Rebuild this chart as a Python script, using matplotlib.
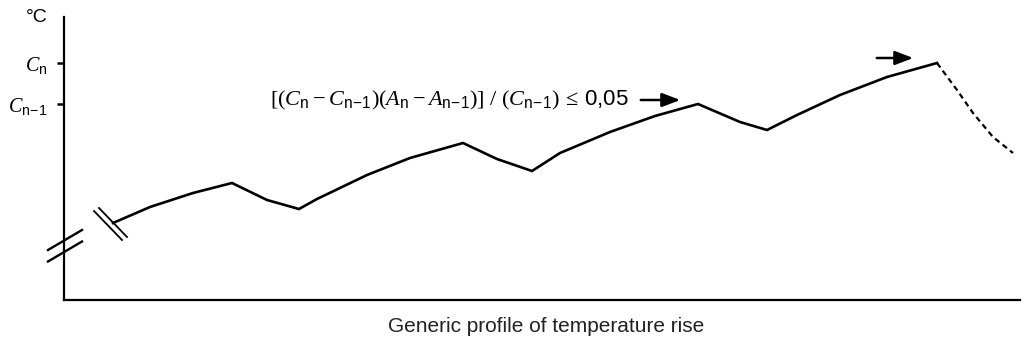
import numpy as np
import matplotlib
matplotlib.use("Agg")
import matplotlib.pyplot as plt

plt.rcParams['font.family'] = ['Liberation Sans', 'DejaVu Sans']
plt.rcParams['mathtext.fontset'] = 'custom'
plt.rcParams['mathtext.rm'] = 'Liberation Serif'
plt.rcParams['mathtext.it'] = 'Liberation Serif:italic'
plt.rcParams['mathtext.sf'] = 'Liberation Sans'

# generic temperature profile (arbitrary units)
time = [49, 86, 129, 168, 203, 235, 253, 303, 346, 399, 433, 468, 496,
        546, 591, 634, 676, 703, 733, 776, 823, 873]
temp = [77, 93, 107, 117, 100, 91, 101, 125, 142, 157, 141, 129, 147,
        168, 184, 196, 178, 170, 185, 205, 223, 237]
# cooling after the end of the test
cool_time = [873, 893, 909, 929, 949]
cool_temp = [237, 210, 187, 163, 147]

tick_vals = [237, 196]
tick_labels = [r'$C_{\mathsf{n}}$', r'$C_{\mathsf{n\!-\!1}}$']

fig = plt.figure(figsize=(10.26, 3.45), dpi=100)
ax = fig.add_axes([64 / 1026, 45 / 345, 956 / 1026, 283 / 345])
ax.set_xlim(0, 956)
ax.set_ylim(0, 283)

ax.plot(time, temp, color='black', lw=1.9, solid_joinstyle='miter')
ax.plot(cool_time, cool_temp, color='black', lw=1.6, ls=(0, (2.5, 1.8)))

# axis breaks
for dy in [0, -11.5]:
    ax.plot([-16, 18], [50 + dy, 70 + dy], color='black', lw=1.7, clip_on=False)
for dx in [0, 5]:
    ax.plot([30 + dx, 58 + dx], [89 + 3 * dx / 5, 60 + 3 * dx / 5],
            color='black', lw=1.3, clip_on=False)

for s in ['top', 'right']:
    ax.spines[s].set_visible(False)
for s in ['left', 'bottom']:
    ax.spines[s].set_linewidth(1.6)

ax.set_xticks([])
ax.set_yticks(tick_vals)
ax.set_yticklabels(tick_labels, fontsize=14.5)
ax.tick_params(axis='y', length=5, width=1.8, pad=7)

arrow = dict(arrowstyle='-|>,head_length=1.1,head_width=0.42',
             color='black', lw=1.8)
ax.annotate('', xy=(619, 200), xytext=(574, 200), arrowprops=arrow)
ax.text(565, 200,
        r'$[(C_{\mathsf{n}}\:-\:C_{\mathsf{n\!-\!1}})(A_{\mathsf{n}}\:-\:A_{\mathsf{n\!-\!1}})]\ /\ (C_{\mathsf{n\!-\!1}})\:\leq\:\mathsf{0{,}05}$',
        fontsize=16, ha='right', va='center')
ax.annotate('', xy=(852, 242), xytext=(810, 242), arrowprops=arrow)

fig.text(37 / 1026, 1 - 18 / 345, '°C', fontsize=14, ha='center', va='center')
fig.text(546 / 1026, 1 - 326 / 345, 'Generic profile of temperature rise',
         fontsize=15, ha='center', va='center', color='#222222')

fig.savefig('out.png', dpi=100)
